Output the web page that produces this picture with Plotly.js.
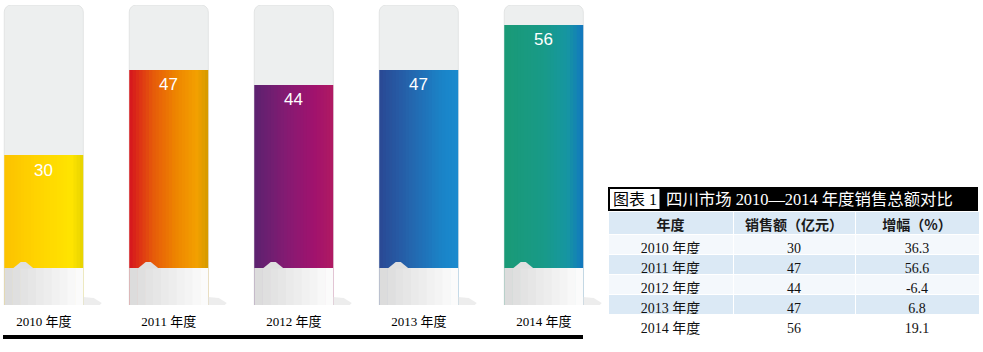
<!DOCTYPE html>
<html>
<head>
<meta charset="utf-8">
<script src="https://cdn.plot.ly/plotly-3.0.1.min.js"></script>
<style>html,body{margin:0;padding:0;background:#fff;}#chart{width:983px;height:352px;}</style>
</head>
<body>
<div id="chart"></div>
<script>
// ---- data ----
const years = ['2010 年度', '2011 年度', '2012 年度', '2013 年度', '2014 年度'];
const sales = [30, 47, 44, 47, 56];          // 销售额（亿元）
const growth = ['36.3', '56.6', '-6.4', '6.8', '19.1']; // 增幅（%）
const axisMax = 60;
const tableHeader = ['年度', '销售额（亿元）', '增幅（%）'];
const tableTitle = '四川市场 2010—2014 年度销售总额对比';
const tableTag = '图表 1';

// ---- styles ----
const W = 983, H = 352;
const px = x => x / W, py = y => 1 - y / H;
const barW = 0.632;
const gradients = [
  [[0, '#fcc200'], [0.4, '#ffd300'], [0.85, '#ffe400'], [1, '#e6d200']],
  [[0, '#d6141e'], [0.3, '#e65a0a'], [0.6, '#ee8600'], [0.85, '#f3a000'], [1, '#d49a00']],
  [[0, '#5c2270'], [0.45, '#881a72'], [0.75, '#a0126e'], [1, '#b01a62']],
  [[0, '#2a4894'], [0.4, '#2466ae'], [0.8, '#1a84c8'], [1, '#1b8ace']],
  [[0, '#1a9a76'], [0.5, '#189a88'], [0.8, '#1696a2'], [1, '#1276c0']]
];
function hex2rgb(h) { return [1, 3, 5].map(i => parseInt(h.substr(i, 2), 16)); }
function gradAt(stops, t) {
  for (let k = 1; k < stops.length; k++) {
    if (t <= stops[k][0]) {
      const a = stops[k - 1], b = stops[k];
      const f = (t - a[0]) / (b[0] - a[0] || 1);
      const ca = hex2rgb(a[1]), cb = hex2rgb(b[1]);
      return 'rgb(' + ca.map((v, j) => Math.round(v + (cb[j] - v) * f)).join(',') + ')';
    }
  }
  return stops[stops.length - 1][1];
}

const traces = [];
// background track
traces.push({
  type: 'bar', x: years, y: years.map(() => axisMax), width: barW,
  marker: { color: '#edefef', cornerradius: 7, line: { color: '#e2e4e4', width: 1 } },
  hoverinfo: 'skip', showlegend: false
});
// gradient bars built from vertical slices
const N = 24;
for (let i = 0; i < N; i++) {
  const t = (i + 0.5) / N;
  traces.push({
    type: 'bar', x: years, y: sales,
    width: barW / N * (i === N - 1 ? 1 : 1.35),
    offset: -barW / 2 + i * barW / N,
    marker: { color: gradients.map(g => gradAt(g, t)), line: { width: 0 } },
    hoverinfo: 'skip', showlegend: false
  });
}

// table
traces.push({
  type: 'table',
  domain: { x: [px(608), px(979)], y: [py(338), py(211)] },
  columnwidth: [125, 122, 124],
  header: {
    values: tableHeader,
    height: 23,
    align: 'center',
    fill: { color: '#dbe9f5' },
    line: { color: '#ffffff', width: 1 },
    font: { family: '"Noto Sans CJK SC", sans-serif', size: 14, color: '#1a1a1a', weight: 'bold' }
  },
  cells: {
    values: [years, sales, growth],
    height: 20,
    align: 'center',
    fill: { color: [['#f4f8fc', '#dbe9f5', '#f4f8fc', '#dbe9f5', '#ffffff']] },
    line: { color: '#ffffff', width: 1 },
    font: { family: '"Liberation Serif", "Noto Sans CJK SC", serif', size: 14, color: '#111' }
  }
});

// decoration shapes: base caps of each column
const shapes = [];
const baseTop = 7.4;
years.forEach((c, i) => {
  const M = 10, bw = 79;
  for (let k = 0; k < M; k++) {
    const g = Math.round(0xdc + (0xfb - 0xdc) * k / (M - 1));
    const col = 'rgb(' + g + ',' + g + ',' + g + ')';
    shapes.push({
      type: 'rect', xref: 'x', yref: 'y', xsizemode: 'pixel', xanchor: i,
      x0: -bw / 2 + k * bw / M, x1: -bw / 2 + (k + 1) * bw / M + (k < M - 1 ? 0.6 : 0),
      y0: 0, y1: baseTop, line: { width: 0 }, fillcolor: col, layer: 'above'
    });
  }
  // bump
  shapes.push({
    type: 'path', xref: 'x', yref: 'y', xsizemode: 'pixel', xanchor: i,
    ysizemode: 'pixel', yanchor: baseTop,
    path: 'M -31,-0.5 L -23,6 L -18,6 L -10,-0.5 Z',
    fillcolor: '#e0e0e0', line: { width: 0 }, layer: 'above'
  });
  // floor shadow
  shapes.push({
    type: 'path', xref: 'x', yref: 'y', xsizemode: 'pixel', xanchor: i,
    ysizemode: 'pixel', yanchor: 0,
    path: 'M 39.5,0 L 39.5,8 L 50,7 L 58,2 L 56,0 Z',
    fillcolor: 'rgba(225,225,225,0.6)', line: { width: 0 }, layer: 'above'
  });
});
// black rule under the columns
shapes.push({ type: 'rect', xref: 'paper', yref: 'paper', x0: px(3), x1: px(583), y0: py(339), y1: py(335),
  fillcolor: '#000', line: { width: 0 } });
// table title bar
shapes.push({ type: 'rect', xref: 'paper', yref: 'paper', x0: px(608), x1: px(978), y0: py(211), y1: py(187),
  fillcolor: '#000', line: { width: 0 } });
shapes.push({ type: 'rect', xref: 'paper', yref: 'paper', x0: px(609.5), x1: px(660), y0: py(209.5), y1: py(188.5),
  fillcolor: '#fff', line: { color: '#000', width: 1 } });

const annotations = years.map((c, i) => ({
  x: c, y: sales[i], xref: 'x', yref: 'y', yshift: -15, yanchor: 'middle',
  text: String(sales[i]), showarrow: false,
  font: { family: '"Liberation Sans", Arial, sans-serif', size: 17, color: '#ffffff' }
}));
annotations.push({
  x: px(635), y: py(199), xref: 'paper', yref: 'paper', xanchor: 'center', yanchor: 'middle',
  text: tableTag, showarrow: false,
  font: { family: '"Liberation Serif", "Noto Sans CJK SC", serif', size: 16, color: '#000' }
});
annotations.push({
  x: px(664), y: py(199), xref: 'paper', yref: 'paper', xanchor: 'left', yanchor: 'middle',
  text: tableTitle, showarrow: false,
  font: { family: '"Liberation Serif", "Noto Sans CJK SC", serif', size: 16.4, color: '#fff' }
});

const layout = {
  width: W, height: H,
  margin: { l: 0, r: 0, t: 0, b: 0 },
  paper_bgcolor: '#fff', plot_bgcolor: 'rgba(0,0,0,0)',
  barmode: 'overlay', showlegend: false, hovermode: false,
  xaxis: {
    domain: [0, px(606.25)], range: [-0.35, 4.5], type: 'category',
    showgrid: false, zeroline: false, showline: false, ticks: '',
    ticklabelstandoff: 7,
    tickfont: { family: '"Liberation Serif", "Noto Sans CJK SC", serif', size: 13, color: '#000' }
  },
  yaxis: { domain: [py(305), py(5)], range: [0, axisMax], visible: false, showgrid: false, zeroline: false },
  shapes: shapes,
  annotations: annotations
};

Plotly.newPlot('chart', traces, layout, { displayModeBar: false, staticPlot: true });
</script>
</body>
</html>
